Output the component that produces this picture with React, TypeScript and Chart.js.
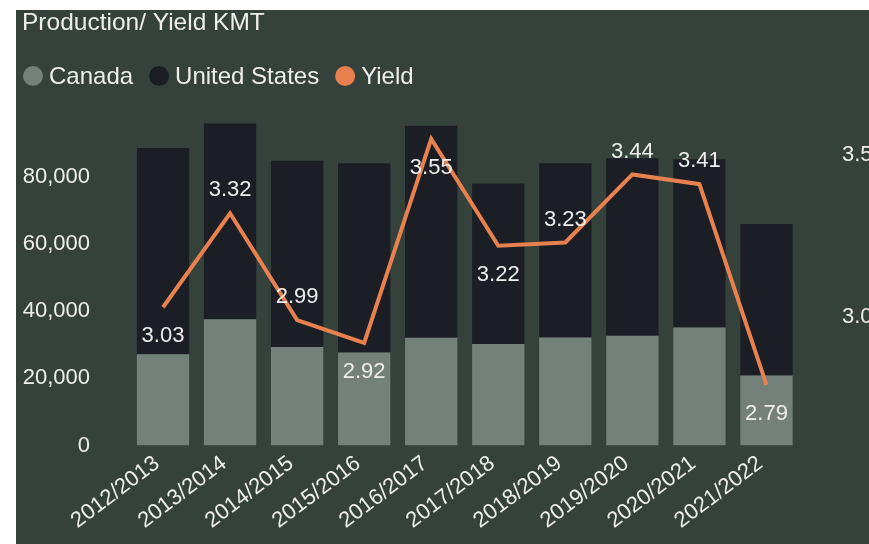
import React, { useEffect, useRef } from "react";
import { Chart, registerables } from "chart.js";

Chart.register(...registerables);

const titleText = "Production/ Yield KMT";
const categories = [
  "2012/2013", "2013/2014", "2014/2015", "2015/2016", "2016/2017",
  "2017/2018", "2018/2019", "2019/2020", "2020/2021", "2021/2022",
];
const canada = [27200, 37600, 29350, 27700, 32100, 30250, 32200, 32700, 35200, 20900];
const unitedStates = [61500, 58400, 55550, 56400, 63200, 47850, 51900, 52900, 50100, 45100];
const yieldValues = [3.03, 3.32, 2.99, 2.92, 3.55, 3.22, 3.23, 3.44, 3.41, 2.79];
const productionTicks = [0, 20000, 40000, 60000, 80000];
const yieldTicks = [3.0, 3.5];
const labelPlacement = ["below", "above", "above", "below", "below", "below", "above", "above", "above", "below"];

const FONT = "'Liberation Sans', Arial, sans-serif";
const BG = "#34423B";
const TEXT = "#EEEEEE";
const CANADA_COLOR = "#74807A";
const US_COLOR = "#1B1E24";
const YIELD_COLOR = "#E8804F";

const overlayPlugin = {
  id: "overlay",
  afterDatasetsDraw(chart: any) {
    const ctx = chart.ctx;
    ctx.save();
    // data labels
    const meta = chart.getDatasetMeta(2);
    ctx.fillStyle = TEXT;
    ctx.font = `22px ${FONT}`;
    ctx.textAlign = "center";
    ctx.textBaseline = "middle";
    meta.data.forEach((pt: any, i: number) => {
      const dy = labelPlacement[i] === "above" ? -23 : 29;
      ctx.fillText(yieldValues[i].toFixed(2), pt.x, pt.y + dy);
    });
    // title
    ctx.textAlign = "left";
    ctx.textBaseline = "alphabetic";
    ctx.font = `24.5px ${FONT}`;
    ctx.fillText(titleText, 6, 20);
    // legend
    ctx.font = `24px ${FONT}`;
    ctx.textBaseline = "middle";
    let x = 17;
    const y = 66;
    chart.data.datasets.forEach((ds: any) => {
      const color = ds.type === "line" ? ds.borderColor : ds.backgroundColor;
      ctx.fillStyle = color;
      ctx.beginPath();
      ctx.arc(x, y, 10, 0, Math.PI * 2);
      ctx.fill();
      ctx.fillStyle = TEXT;
      ctx.fillText(ds.label, x + 16, y + 1);
      const w = ctx.measureText(ds.label).width;
      x = x + 16 + w + 26;
    });
    ctx.restore();
  },
};

export default function App() {
  const ref = useRef<HTMLCanvasElement>(null);
  useEffect(() => {
    if (!ref.current) return;
    const chart = new Chart(ref.current, {
      type: "bar",
      data: {
        labels: categories,
        datasets: [
          {
            type: "bar",
            label: "Canada",
            data: canada,
            backgroundColor: CANADA_COLOR,
            yAxisID: "y",
            stack: "s",
            order: 1,
            barPercentage: 0.78,
            categoryPercentage: 1,
          },
          {
            type: "bar",
            label: "United States",
            data: unitedStates,
            backgroundColor: US_COLOR,
            yAxisID: "y",
            stack: "s",
            order: 1,
            barPercentage: 0.78,
            categoryPercentage: 1,
          },
          {
            type: "line",
            label: "Yield",
            data: yieldValues,
            borderColor: YIELD_COLOR,
            backgroundColor: YIELD_COLOR,
            borderWidth: 4,
            pointRadius: 0,
            tension: 0,
            yAxisID: "y1",
            order: 0,
          } as any,
        ],
      },
      options: {
        responsive: false,
        animation: false,
        devicePixelRatio: 1,
        layout: { padding: { top: 100, left: 0, right: 0, bottom: 0 } },
        plugins: {
          legend: { display: false },
          title: { display: false },
          tooltip: { enabled: false },
        },
        scales: {
          x: {
            stacked: true,
            grid: { display: false, drawTicks: false },
            border: { display: false },
            ticks: {
              color: TEXT,
              font: { size: 22, family: FONT },
              minRotation: 37,
              maxRotation: 37,
              padding: 5,
              labelOffset: -6,
              autoSkip: false,
            },
            afterFit: (s: any) => {
              s.height = 98.5;
            },
          },
          y: {
            stacked: true,
            position: "left",
            min: 0,
            max: 100000,
            grid: { display: false, drawTicks: false },
            border: { display: false },
            afterBuildTicks: (s: any) => {
              s.ticks = productionTicks.map((v) => ({ value: v }));
            },
            ticks: {
              color: TEXT,
              font: { size: 22, family: FONT },
              padding: 39.5,
              callback: (v: any) => Number(v).toLocaleString("en-US"),
            },
            afterFit: (s: any) => {
              s.width = 113.5;
            },
          },
          y1: {
            position: "right",
            min: 2.603,
            max: 3.639,
            grid: { display: false, drawTicks: false },
            border: { display: false },
            afterBuildTicks: (s: any) => {
              s.ticks = yieldTicks.map((v) => ({ value: v }));
            },
            ticks: {
              color: TEXT,
              font: { size: 22, family: FONT },
              padding: 42,
              callback: (v: any) => Number(v).toFixed(1),
            },
            afterFit: (s: any) => {
              s.width = 100;
            },
          },
        },
      },
      plugins: [overlayPlugin],
    });
    return () => chart.destroy();
  }, []);

  return (
    <div
      style={{
        position: "absolute",
        left: 16,
        top: 10,
        width: 853,
        height: 534,
        overflow: "hidden",
        background: BG,
      }}
    >
      <canvas
        ref={ref}
        width={884}
        height={534}
        style={{ position: "absolute", left: 0, top: 0, width: 884, height: 534 }}
      />
    </div>
  );
}
